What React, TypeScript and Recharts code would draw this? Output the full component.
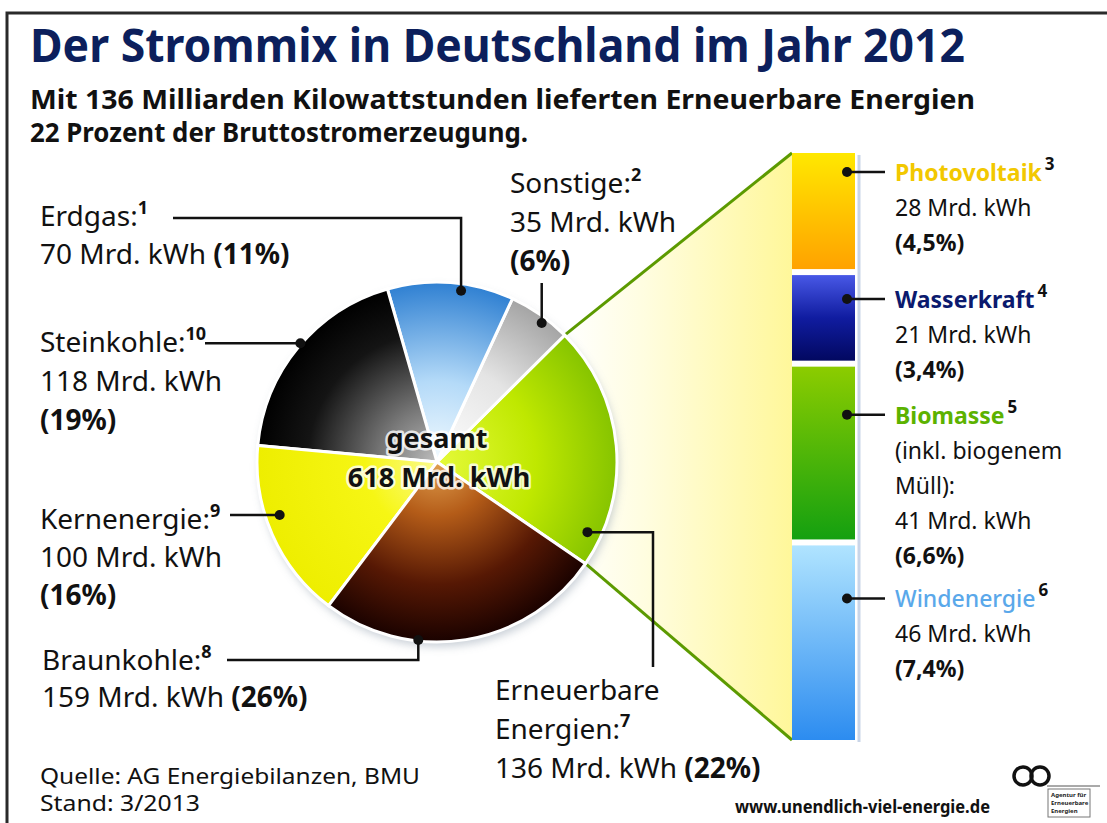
import React from 'react';
import { PieChart, Pie, Cell, BarChart, Bar, XAxis, YAxis } from 'recharts';

// ---------- data ----------
const mixLabels = ['Erneuerbare Energien', 'Sonstige', 'Erdgas', 'Steinkohle', 'Kernenergie', 'Braunkohle'];
const mixValues = [136, 35, 70, 118, 100, 159];
const mixPercents = ['22%', '6%', '11%', '19%', '16%', '26%'];
const mixNotes = ['7', '2', '1', '10', '9', '8'];
const mixGradients = ['gRenew', 'gOther', 'gGas', 'gCoal', 'gNuclear', 'gLignite'];

const renewLabels = ['Photovoltaik', 'Wasserkraft', 'Biomasse', 'Windenergie'];
const renewKeys = ['pv', 'hydro', 'bio', 'wind'];
const renewValues = [28, 21, 41, 46];
const renewPercents = ['4,5%', '3,4%', '6,6%', '7,4%'];
const renewNotes = ['3', '4', '5', '6'];
const renewExtra = [[], [], ['(inkl. biogenem', 'Müll):'], []];
const renewGradients = ['gPV', 'gHydro', 'gBio', 'gWind'];
const renewNameColors = ['#f2c800', '#0b1a6e', '#5cb200', '#5aa8ea'];

const TITLE = 'Der Strommix in Deutschland im Jahr 2012';
const SUB1 = 'Mit 136 Milliarden Kilowattstunden lieferten Erneuerbare Energien';
const SUB2 = '22 Prozent der Bruttostromerzeugung.';
const TOTAL_WORD = 'gesamt';
const TOTAL_VALUE = '618 Mrd. kWh';
const UNIT = 'Mrd. kWh';
const SOURCE = 'Quelle: AG Energiebilanzen, BMU';
const STAND = 'Stand: 3/2013';
const WEB = 'www.unendlich-viel-energie.de';

// ---------- layout ----------
const W = 1107;
const H = 823;
const FONT = "'Noto Sans', 'DejaVu Sans', sans-serif";
const CX = 437;
const CY = 462;
const R = 180;
const START = -34.4;
const BAR_LEFT = 792;
const BAR_W = 63;
const BAR_TOP = 150;
const BAR_H = 593;
const GAP = 6;

// leader for each slice: dot in polar coords around the pie centre, then H/V path
const pieLeaders: { a: number; r: number; path: [string, number][] }[] = [
  { a: -25, r: 166, path: [['H', 653], ['V', 667]] },
  { a: 53, r: 174, path: [['V', 283]] },
  { a: 82, r: 173, path: [['V', 218], ['H', 173]] },
  { a: 139, r: 181, path: [['H', 205]] },
  { a: 198.6, r: 166, path: [['H', 230]] },
  { a: 264, r: 179, path: [['V', 660], ['H', 227]] },
];
const pieTextLayout = [
  { x: 495, y: 700, gap: 39, split: true, inline: true },
  { x: 510, y: 193, gap: 39, split: false, inline: false },
  { x: 40, y: 226, gap: 38, split: false, inline: true },
  { x: 40, y: 352, gap: 39, split: false, inline: false },
  { x: 40, y: 529, gap: 38, split: false, inline: false },
  { x: 42, y: 670, gap: 37, split: false, inline: true },
];
const barDotDy = [19, 24, 48, 53];

const rad = (d: number) => (d * Math.PI) / 180;
const total = mixValues.reduce((s, v) => s + v, 0);
const renewTotal = renewValues.reduce((s, v) => s + v, 0);

function renderPieLeader(props: any) {
  const { cx, cy, index } = props;
  const L = pieLeaders[index];
  if (!L) return null;
  const px = cx + L.r * Math.cos(rad(L.a));
  const py = cy - L.r * Math.sin(rad(L.a));
  let d = `M${px},${py}`;
  for (const [c, v] of L.path) d += ` ${c}${v}`;
  return (
    <g key={`ld-${index}`}>
      <path d={d} fill="none" stroke="#111" strokeWidth={2.5} />
      <circle cx={px} cy={py} r={5} fill="#111" />
    </g>
  );
}

function makeBarShape(i: number) {
  return (props: any) => {
    const { x, y, width, height, fill } = props;
    const top = y + GAP / 2;
    const h = Math.max(0, height - GAP);
    const dotX = x + width - 8;
    const dotY = top + barDotDy[i];
    const tx = x + width + 40;
    const lh = 35;
    const lines: React.ReactNode[] = [];
    let ly = dotY + 9;
    lines.push(
      <text key="n" x={tx} y={ly} fontSize={23} fontWeight={i === 3 ? 500 : 700} fill={renewNameColors[i]} fontFamily={FONT}>
        {renewLabels[i]}
        <tspan fontSize={17} fontWeight={700} fill="#111" dx={3} dy={-11}>{renewNotes[i]}</tspan>
      </text>
    );
    renewExtra[i].forEach((t, k) => {
      ly += lh;
      lines.push(
        <text key={`e${k}`} x={tx} y={ly} fontSize={23} fill="#111" fontFamily={FONT}>{t}</text>
      );
    });
    ly += lh;
    lines.push(
      <text key="v" x={tx} y={ly} fontSize={23} fill="#111" fontFamily={FONT}>{`${renewValues[i]} ${UNIT}`}</text>
    );
    ly += lh;
    lines.push(
      <text key="p" x={tx} y={ly} fontSize={23} fontWeight={700} fill="#111" fontFamily={FONT}>{`(${renewPercents[i]})`}</text>
    );
    return (
      <g>
        <rect x={x} y={top} width={width} height={h} fill={fill} />
        <line x1={dotX} y1={dotY} x2={x + width + 30} y2={dotY} stroke="#111" strokeWidth={2.5} />
        <circle cx={dotX} cy={dotY} r={5} fill="#111" />
        {lines}
      </g>
    );
  };
}

function PieLabelText({ i }: { i: number }) {
  const L = pieTextLayout[i];
  const parts = L.split ? mixLabels[i].split(' ') : [mixLabels[i]];
  const out: React.ReactNode[] = [];
  let y = L.y;
  parts.forEach((p, k) => {
    const last = k === parts.length - 1;
    out.push(
      <text key={`n${k}`} x={L.x} y={y} fontSize={28} fill="#111" fontFamily={FONT}>
        {p}
        {last ? ':' : ''}
        {last ? (
          <tspan fontSize={18} fontWeight={700} dy={-12}>{mixNotes[i]}</tspan>
        ) : null}
      </text>
    );
    y += L.gap;
  });
  out.push(
    <text key="v" x={L.x} y={y} fontSize={28} fill="#111" fontFamily={FONT}>
      {`${mixValues[i]} ${UNIT}`}
      {L.inline ? <tspan fontWeight={700}>{` (${mixPercents[i]})`}</tspan> : null}
    </text>
  );
  if (!L.inline) {
    y += L.gap;
    out.push(
      <text key="p" x={L.x} y={y} fontSize={28} fontWeight={700} fill="#111" fontFamily={FONT}>{`(${mixPercents[i]})`}</text>
    );
  }
  return <g>{out}</g>;
}

export default function App() {
  const pieData = mixLabels.map((name, i) => ({ name, value: mixValues[i] }));
  const barRow: any = { name: 'Erneuerbare Energien' };
  renewKeys.forEach((k, i) => (barRow[k] = renewValues[i]));

  const share = (mixValues[0] / total) * 360;
  const aTop = rad(START + share);
  const aBot = rad(START);
  const pTop = [CX + R * Math.cos(aTop), CY - R * Math.sin(aTop)];
  const pBot = [CX + R * Math.cos(aBot), CY - R * Math.sin(aBot)];
  const bTop = BAR_TOP + GAP / 2;
  const bBot = BAR_TOP + BAR_H - GAP / 2;

  const order = [3, 2, 1, 0]; // stack bottom → top

  return (
    <div style={{ position: 'relative', width: W, height: H, background: '#fff', overflow: 'hidden' }}>
      <style>{`body{margin:0;background:#fff}`}</style>
      {/* background layer */}
      <svg width={W} height={H} style={{ position: 'absolute', left: 0, top: 0 }}>
        <defs>
          <radialGradient id="gRenew" gradientUnits="userSpaceOnUse" cx={CX} cy={CY} r={R}>
            <stop offset="0" stopColor="#e6fa3a" />
            <stop offset="0.55" stopColor="#bfe800" />
            <stop offset="1" stopColor="#86c400" />
          </radialGradient>
          <radialGradient id="gOther" gradientUnits="userSpaceOnUse" cx={CX} cy={CY} r={R}>
            <stop offset="0" stopColor="#ffffff" />
            <stop offset="0.55" stopColor="#e4e4e4" />
            <stop offset="1" stopColor="#a4a4a4" />
          </radialGradient>
          <radialGradient id="gGas" gradientUnits="userSpaceOnUse" cx={CX} cy={CY} r={R}>
            <stop offset="0" stopColor="#f4fbff" />
            <stop offset="0.45" stopColor="#b4daf8" />
            <stop offset="1" stopColor="#2f80d2" />
          </radialGradient>
          <radialGradient id="gCoal" gradientUnits="userSpaceOnUse" cx={CX} cy={CY} r={R}>
            <stop offset="0" stopColor="#bdbdbd" />
            <stop offset="0.3" stopColor="#7a7a7a" />
            <stop offset="0.72" stopColor="#141414" />
            <stop offset="1" stopColor="#000000" />
          </radialGradient>
          <radialGradient id="gNuclear" gradientUnits="userSpaceOnUse" cx={CX} cy={CY} r={R}>
            <stop offset="0" stopColor="#fbfb90" />
            <stop offset="0.4" stopColor="#f6f614" />
            <stop offset="1" stopColor="#eeee00" />
          </radialGradient>
          <radialGradient id="gLignite" gradientUnits="userSpaceOnUse" cx={CX} cy={CY} r={R}>
            <stop offset="0" stopColor="#e0a050" />
            <stop offset="0.3" stopColor="#b45c18" />
            <stop offset="0.68" stopColor="#561804" />
            <stop offset="1" stopColor="#1a0200" />
          </radialGradient>
          <linearGradient id="gPV" x1="0" y1="0" x2="0" y2="1">
            <stop offset="0" stopColor="#ffe800" />
            <stop offset="1" stopColor="#ffa200" />
          </linearGradient>
          <linearGradient id="gHydro" x1="0" y1="0" x2="0" y2="1">
            <stop offset="0" stopColor="#4858e6" />
            <stop offset="0.5" stopColor="#101ca0" />
            <stop offset="1" stopColor="#020860" />
          </linearGradient>
          <linearGradient id="gBio" x1="0" y1="0" x2="0" y2="1">
            <stop offset="0" stopColor="#8ccc00" />
            <stop offset="1" stopColor="#14a010" />
          </linearGradient>
          <linearGradient id="gWind" x1="0" y1="0" x2="0" y2="1">
            <stop offset="0" stopColor="#b0e4ff" />
            <stop offset="1" stopColor="#2c8cf0" />
          </linearGradient>
          <linearGradient id="gFan" gradientUnits="userSpaceOnUse" x1={pTop[0]} y1={0} x2={BAR_LEFT} y2={0}>
            <stop offset="0" stopColor="#ffffff" />
            <stop offset="0.35" stopColor="#fffde0" />
            <stop offset="1" stopColor="#fff79a" />
          </linearGradient>
          <filter id="pieShadow" x="-20%" y="-20%" width="140%" height="140%">
            <feDropShadow dx="2" dy="5" stdDeviation="4" floodColor="#8a97a8" floodOpacity="0.45" />
          </filter>
        </defs>
        <rect x={7} y={13} width={1300} height={1000} fill="none" stroke="#2a2a2a" strokeWidth={3} />
        <polygon
          points={`${CX},${CY} ${pTop[0]},${pTop[1]} ${BAR_LEFT},${bTop} ${BAR_LEFT},${bBot} ${pBot[0]},${pBot[1]}`}
          fill="url(#gFan)"
        />
        <circle cx={CX} cy={CY} r={R} fill="#ffffff" filter="url(#pieShadow)" />
        <line x1={pTop[0]} y1={pTop[1]} x2={BAR_LEFT} y2={bTop} stroke="#5c9a00" strokeWidth={3} />
        <line x1={pBot[0]} y1={pBot[1]} x2={BAR_LEFT} y2={bBot} stroke="#5c9a00" strokeWidth={3} />
        <line x1={BAR_LEFT + BAR_W + 4} y1={bTop + 2} x2={BAR_LEFT + BAR_W + 4} y2={bBot + 2} stroke="#c9d5e8" strokeWidth={3} />
      </svg>

      {/* pie */}
      <div style={{ position: 'absolute', left: 0, top: 0 }}>
        <PieChart width={W} height={H} margin={{ top: 0, right: 0, bottom: 0, left: 0 }}>
          <Pie
            data={pieData}
            dataKey="value"
            nameKey="name"
            cx={CX}
            cy={CY}
            outerRadius={R}
            startAngle={START}
            endAngle={START + 360}
            stroke="#ffffff"
            strokeWidth={3}
            isAnimationActive={false}
            label={renderPieLeader}
            labelLine={false}
          >
            {pieData.map((d, i) => (
              <Cell key={d.name} fill={`url(#${mixGradients[i]})`} />
            ))}
          </Pie>
        </PieChart>
      </div>

      {/* renewables stacked bar */}
      <div style={{ position: 'absolute', left: BAR_LEFT, top: BAR_TOP }}>
        <BarChart
          width={W - BAR_LEFT}
          height={BAR_H}
          data={[barRow]}
          margin={{ top: 0, right: W - BAR_LEFT - BAR_W, bottom: 0, left: 0 }}
          barCategoryGap={0}
          barGap={0}
        >
          <XAxis dataKey="name" hide />
          <YAxis hide domain={[0, renewTotal]} />
          {order.map((i) => (
            <Bar
              key={renewKeys[i]}
              dataKey={renewKeys[i]}
              stackId="ee"
              fill={`url(#${renewGradients[i]})`}
              isAnimationActive={false}
              shape={makeBarShape(i)}
            />
          ))}
        </BarChart>
      </div>

      {/* text overlay */}
      <svg width={W} height={H} style={{ position: 'absolute', left: 0, top: 0, pointerEvents: 'none' }}>
        <text x={30} y={62} fontSize={46} fontWeight={700} fill="#0c1f5c" fontFamily={FONT} textLength={935} lengthAdjust="spacingAndGlyphs">
          {TITLE}
        </text>
        <text x={30} y={109} fontSize={26} fontWeight={700} fill="#111" fontFamily={FONT} textLength={945} lengthAdjust="spacingAndGlyphs">
          {SUB1}
        </text>
        <text x={30} y={142} fontSize={26} fontWeight={700} fill="#111" fontFamily={FONT} textLength={498} lengthAdjust="spacingAndGlyphs">
          {SUB2}
        </text>
        {mixLabels.map((_, i) => (
          <PieLabelText key={i} i={i} />
        ))}
        <g fontFamily={FONT} fontWeight={700} fontSize={27} fill="#111" textAnchor="middle" stroke="#ffffff" strokeOpacity={0.8} strokeWidth={5} paintOrder="stroke" strokeLinejoin="round">
          <text x={CX} y={448}>{TOTAL_WORD}</text>
          <text x={CX + 2} y={487}>{TOTAL_VALUE}</text>
        </g>
        <text x={40} y={784} fontSize={22} fill="#111" fontFamily={FONT} textLength={380} lengthAdjust="spacingAndGlyphs">{SOURCE}</text>
        <text x={40} y={811} fontSize={22} fill="#111" fontFamily={FONT} textLength={160} lengthAdjust="spacingAndGlyphs">{STAND}</text>
        <text x={735} y={813} fontSize={17} fontWeight={700} fill="#111" fontFamily={FONT} textLength={255} lengthAdjust="spacingAndGlyphs">{WEB}</text>
        {/* logo */}
        <circle cx={1023} cy={776} r={9} fill="none" stroke="#111" strokeWidth={3.5} />
        <circle cx={1040} cy={776} r={9} fill="none" stroke="#111" strokeWidth={3.5} />
        <line x1={1047} y1={786} x2={1100} y2={786} stroke="#555" strokeWidth={1} />
        <rect x={1048} y={789} width={42} height={28} fill="#fff" stroke="#777" strokeWidth={1} />
        <g fontFamily={FONT} fontSize={6} fontWeight={700} fill="#222">
          <text x={1051} y={797}>Agentur für</text>
          <text x={1051} y={805}>Erneuerbare</text>
          <text x={1051} y={813}>Energien</text>
        </g>
      </svg>
    </div>
  );
}
